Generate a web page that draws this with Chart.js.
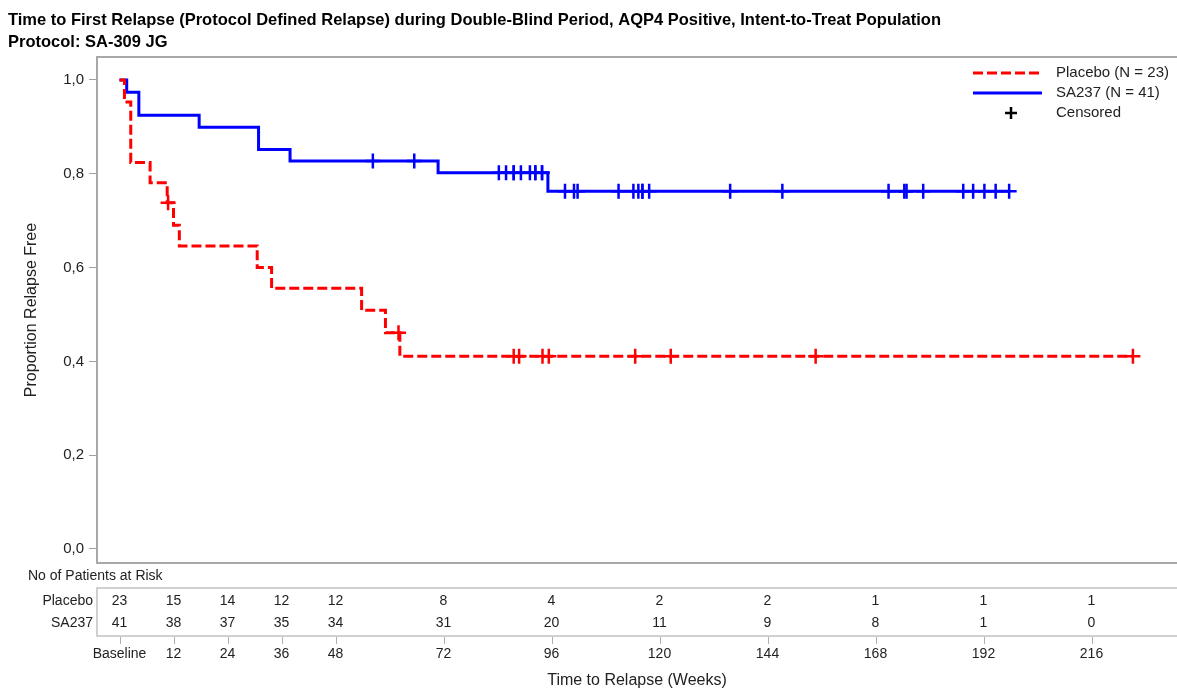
<!DOCTYPE html>
<html><head><meta charset="utf-8">
<script src="https://cdn.jsdelivr.net/npm/chart.js@4.4.0/dist/chart.umd.min.js"></script>
<style>html,body{margin:0;padding:0;background:#fff;overflow:hidden}#wrap{width:1177px;height:689px;position:relative}</style>
</head><body><div id="wrap"><canvas id="c" width="1177" height="689"></canvas></div>
<script>
const titleLines = [
  'Time to First Relapse (Protocol Defined Relapse) during Double-Blind Period, AQP4 Positive, Intent-to-Treat Population',
  'Protocol: SA-309 JG'
];
const xTickValues = [0, 12, 24, 36, 48, 72, 96, 120, 144, 168, 192, 216];
const xTickLabels = ['Baseline', '12', '24', '36', '48', '72', '96', '120', '144', '168', '192', '216'];
const yTickValues = [0, 0.2, 0.4, 0.6, 0.8, 1.0];

const placeboTimes = [0, 1.1, 2.5, 6.8, 10.6, 12.0, 13.3, 30.6, 33.8, 53.8, 59.1, 62.3, 225.2];
const placeboSurv  = [1.0, 0.953, 0.824, 0.781, 0.738, 0.690, 0.646, 0.600, 0.556, 0.509, 0.461, 0.411, 0.411];
const placeboCensorTimes = [10.8, 62.0, 87.6, 88.8, 94.0, 95.4, 114.6, 122.5, 154.7, 225.2];

const sa237Times = [0, 1.6, 4.3, 17.7, 30.9, 37.9, 70.8, 95.2, 197.7];
const sa237Surv  = [1.0, 0.974, 0.925, 0.899, 0.852, 0.827, 0.802, 0.763, 0.763];
const sa237CensorTimes = [56.3, 65.5, 84.3, 85.9, 87.6, 87.6, 89.2, 91.2, 92.4, 92.4, 93.9, 93.9,
  99.0, 101.0, 101.8, 110.9, 114.2, 115.3, 116.2, 116.2, 117.7,
  135.7, 147.3, 170.9, 174.4, 174.9, 178.6, 187.5, 189.7, 192.2, 194.7, 197.7];

const riskRowLabels = ['Placebo', 'SA237'];
const riskPlacebo = [23, 15, 14, 12, 12, 8, 4, 2, 2, 1, 1, 1];
const riskSA237   = [41, 38, 37, 35, 34, 31, 20, 11, 9, 8, 1, 0];

const legendLabels = ['Placebo (N = 23)', 'SA237 (N = 41)', 'Censored'];

const RED = '#ff0000', BLUE = '#0000ff';
const FONT = '"Liberation Sans", Arial, sans-serif';

function levelAt(times, surv, t) {
  let v = surv[0];
  for (let i = 0; i < times.length; i++) if (times[i] <= t) v = surv[i];
  return v;
}
const pts = (ts, ss) => ts.map((t, i) => ({x: t, y: ss[i]}));
const cens = (cts, ts, ss) => cts.map(t => ({x: t, y: levelAt(ts, ss, t)}));

const decor = {
  id: 'decor',
  afterDraw(chart) {
    const ctx = chart.ctx, ca = chart.chartArea, xs = chart.scales.x;
    ctx.save();
    // top frame line
    ctx.strokeStyle = '#a8a8a8'; ctx.lineWidth = 2;
    ctx.beginPath(); ctx.moveTo(ca.left - 1, ca.top); ctx.lineTo(ca.right, ca.top); ctx.stroke();
    // risk table
    ctx.fillStyle = '#222';
    ctx.font = '14px ' + FONT;
    ctx.textBaseline = 'middle';
    ctx.textAlign = 'left';
    ctx.fillText('No of Patients at Risk', 28, 576);
    ctx.strokeStyle = '#d0d0d0'; ctx.lineWidth = 2;
    ctx.beginPath();
    ctx.moveTo(ca.right, 588); ctx.lineTo(ca.left, 588); ctx.lineTo(ca.left, 636); ctx.lineTo(ca.right, 636);
    ctx.stroke();
    const rowsY = [601, 623];
    const rows = [riskPlacebo, riskSA237];
    ctx.textAlign = 'right';
    riskRowLabels.forEach((l, i) => ctx.fillText(l, 93, rowsY[i]));
    ctx.textAlign = 'center';
    rows.forEach((r, i) => r.forEach((v, j) => ctx.fillText(String(v), xs.getPixelForValue(xTickValues[j]), rowsY[i])));
    // tick marks below table
    ctx.strokeStyle = '#b0b0b0'; ctx.lineWidth = 1;
    xTickValues.forEach(v => {
      const px = Math.round(xs.getPixelForValue(v)) + 0.5;
      ctx.beginPath(); ctx.moveTo(px, 637); ctx.lineTo(px, 644); ctx.stroke();
    });
    // legend
    const lx0 = 973, lx1 = 1042, tx = 1056;
    ctx.lineWidth = 3;
    ctx.strokeStyle = RED; ctx.setLineDash([10, 4]);
    ctx.beginPath(); ctx.moveTo(lx0, 73); ctx.lineTo(lx1, 73); ctx.stroke();
    ctx.setLineDash([]);
    ctx.strokeStyle = BLUE;
    ctx.beginPath(); ctx.moveTo(lx0, 93); ctx.lineTo(lx1, 93); ctx.stroke();
    ctx.strokeStyle = '#000'; ctx.lineWidth = 2.5;
    ctx.beginPath(); ctx.moveTo(1011, 107); ctx.lineTo(1011, 119); ctx.moveTo(1005, 113); ctx.lineTo(1017, 113); ctx.stroke();
    ctx.fillStyle = '#222';
    ctx.font = '15px ' + FONT;
    ctx.textAlign = 'left';
    legendLabels.forEach((l, i) => ctx.fillText(l, tx, 73 + 20 * i));
    ctx.restore();
  }
};

new Chart(document.getElementById('c'), {
  type: 'line',
  data: {
    datasets: [
      {label: 'Placebo', data: pts(placeboTimes, placeboSurv), stepped: 'before', borderColor: RED, borderWidth: 3, borderDash: [10, 4], pointRadius: 0, fill: false},
      {label: 'Placebo censored', data: cens(placeboCensorTimes, placeboTimes, placeboSurv), showLine: false, pointStyle: 'cross', pointRadius: 7.5, pointBorderWidth: 2.5, pointBorderColor: RED, borderColor: RED},
      {label: 'SA237', data: pts(sa237Times, sa237Surv), stepped: 'before', borderColor: BLUE, borderWidth: 3, pointRadius: 0, fill: false},
      {label: 'SA237 censored', data: cens(sa237CensorTimes, sa237Times, sa237Surv), showLine: false, pointStyle: 'cross', pointRadius: 7.5, pointBorderWidth: 2.5, pointBorderColor: BLUE, borderColor: BLUE}
    ]
  },
  options: {
    responsive: false, animation: false, devicePixelRatio: 1,
    layout: {autoPadding: false, padding: {left: 8, right: 0, top: 0, bottom: 0}},
    plugins: {
      legend: {display: false}, tooltip: {enabled: false},
      title: {display: true, text: titleLines, align: 'start', color: '#000',
        font: {family: FONT, size: 16.5, weight: 'bold', lineHeight: 1.3}, padding: {top: 10, bottom: 4.1}}
    },
    scales: {
      x: {
        type: 'linear', min: -5, max: 235,
        afterBuildTicks: s => { s.ticks = xTickValues.map(v => ({value: v})); },
        afterFit: s => { s.height = 126; s.paddingLeft = 0; s.paddingRight = 0; },
        ticks: {autoSkip: false, maxRotation: 0, padding: 83, color: '#222', font: {family: FONT, size: 14},
          callback: (v, i) => xTickLabels[i]},
        grid: {display: true, drawOnChartArea: false, drawTicks: false, color: '#a8a8a8'},
        border: {display: true, color: '#a8a8a8', width: 2},
        title: {display: true, text: 'Time to Relapse (Weeks)', color: '#222', font: {family: FONT, size: 16, lineHeight: 1}, padding: {top: 0, bottom: 0}}
      },
      y: {
        type: 'linear', min: -0.0299, max: 1.049,
        afterBuildTicks: s => { s.ticks = yTickValues.map(v => ({value: v})); },
        afterFit: s => { s.width = 89; s.paddingTop = 0; s.paddingBottom = 0; },
        ticks: {padding: 5, color: '#222', font: {family: FONT, size: 15},
          callback: v => v.toFixed(1).replace('.', ',')},
        grid: {display: true, drawOnChartArea: false, drawTicks: true, tickLength: 8, color: '#a0a0a0', tickWidth: 1},
        border: {display: true, color: '#a8a8a8', width: 2},
        title: {display: true, text: 'Proportion Relapse Free', color: '#222', font: {family: FONT, size: 16, lineHeight: 1}, padding: {top: 16, bottom: 0}}
      }
    }
  },
  plugins: [decor]
});
</script>
</body></html>
